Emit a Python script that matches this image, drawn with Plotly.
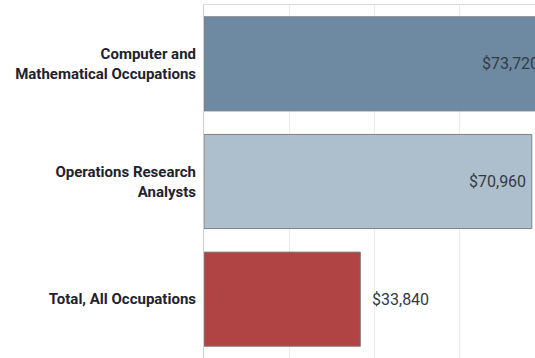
import plotly.graph_objects as go

# Median annual wage by occupation group
categories = [
    "Computer and<br>Mathematical Occupations",
    "Operations Research<br>Analysts",
    "Total, All Occupations",
]
wages = [73720, 70960, 33840]
bar_colors = ["#6e8aa3", "#adbfcc", "#b04343"]
label_inside = [True, True, False]

X_MAX = 71650

def money(v):
    return "${:,.0f}".format(v)

fig = go.Figure(
    go.Bar(
        x=wages,
        y=categories,
        orientation="h",
        width=0.8,
        marker=dict(color=bar_colors, line=dict(color="#808080", width=1)),
        hoverinfo="skip",
    )
)

# Value labels: inside the bar end for long bars, just past the end otherwise.
# Positioned in paper units so a bar running past the axis end still gets its label.
for cat, val, inside in zip(categories, wages, label_inside):
    fig.add_annotation(
        x=val / X_MAX,
        xref="paper",
        y=cat,
        yref="y",
        text=money(val),
        showarrow=False,
        xanchor="right" if inside else "left",
        xshift=-4 if inside else 10,
        font=dict(family="Roboto, sans-serif", size=16, color="#333a44"),
    )

fig.update_layout(
    width=535,
    height=358,
    margin=dict(l=204, r=0, t=5, b=0),
    paper_bgcolor="white",
    plot_bgcolor="white",
    showlegend=False,
    xaxis=dict(
        range=[0, X_MAX],
        tick0=0,
        dtick=18400,
        showgrid=True,
        gridcolor="#ebebeb",
        gridwidth=1,
        showticklabels=False,
        zeroline=False,
        showline=True,
        linecolor="#dcdcdc",
        mirror=True,
        side="top",
        automargin=False,
        fixedrange=True,
    ),
    yaxis=dict(
        autorange="reversed",
        showgrid=False,
        showline=True,
        linecolor="#d0d0d0",
        ticks="",
        ticklabelstandoff=4,
        automargin=False,
        tickfont=dict(family="Roboto, sans-serif", size=15, color="#22222e", weight="bold"),
        fixedrange=True,
    ),
)

fig.write_html("out.html", config={"displayModeBar": False})
